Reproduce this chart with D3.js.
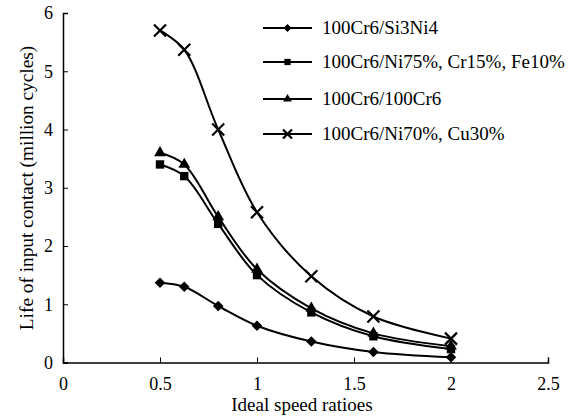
<!DOCTYPE html>
<html>
<head>
<meta charset="utf-8">
<script src="https://cdn.jsdelivr.net/npm/d3@7"></script>
<style>
  body { margin: 0; background: #fff; }
  text { font-family: "Liberation Serif", "DejaVu Serif", serif; fill: #000; }
</style>
</head>
<body>
<div id="chart"></div>
<script>
// speed ratios (x) and life values (million cycles) per material pair
const ratios = [0.5, 0.625, 0.8, 1.0, 1.28, 1.6, 2.0];
const si3ni4 = [1.37, 1.3, 0.97, 0.63, 0.36, 0.18, 0.09];
const ni75cr15fe10 = [3.4, 3.2, 2.38, 1.5, 0.86, 0.45, 0.23];
const cr6cr6 = [3.6, 3.4, 2.5, 1.6, 0.93, 0.5, 0.28];
const ni70cu30 = [5.7, 5.37, 4.0, 2.58, 1.48, 0.79, 0.41];
const seriesNames = [
  "100Cr6/Si3Ni4",
  "100Cr6/Ni75%, Cr15%, Fe10%",
  "100Cr6/100Cr6",
  "100Cr6/Ni70%, Cu30%"
];
const xTicks = [0, 0.5, 1, 1.5, 2, 2.5];
const yTicks = [0, 1, 2, 3, 4, 5, 6];

const width = 573, height = 419;
const margin = { left: 63, right: 25, top: 13, bottom: 56 };

const series = [
  { name: seriesNames[0], values: si3ni4, shape: "diamond", size: 56 },
  { name: seriesNames[1], values: ni75cr15fe10, shape: d3.symbolSquare, size: 70 },
  { name: seriesNames[2], values: cr6cr6, shape: d3.symbolTriangle, size: 60 },
  { name: seriesNames[3], values: ni70cu30, shape: "cross", size: 6 }
];

const svg = d3.select("#chart").append("svg")
  .attr("width", width)
  .attr("height", height);

const x = d3.scaleLinear().domain([0, 2.5]).range([margin.left, width - margin.right]);
const y = d3.scaleLinear().domain([0, 6]).range([height - margin.bottom - 0.5, margin.top]);

// axes, ticks point inward
svg.append("g")
  .attr("transform", `translate(0,${y(0)})`)
  .call(d3.axisBottom(x).tickValues(xTicks).tickSize(-5).tickPadding(15)
    .tickFormat(d => d))
  .call(g => g.select(".domain").attr("stroke-width", 1.5))
  .call(g => g.selectAll("text").attr("font-size", 18));

svg.append("g")
  .attr("transform", `translate(${x(0)},0)`)
  .call(d3.axisLeft(y).tickValues(yTicks).tickSize(-5).tickPadding(10)
    .tickFormat(d => d))
  .call(g => g.select(".domain").attr("stroke-width", 1.5))
  .call(g => g.selectAll("text").attr("font-size", 18));

svg.append("text")
  .attr("x", 302)
  .attr("y", 411)
  .attr("text-anchor", "middle")
  .attr("font-size", 19)
  .text("Ideal speed ratioes");

svg.append("text")
  .attr("transform", "translate(33,188) rotate(-90)")
  .attr("text-anchor", "middle")
  .attr("font-size", 19.3)
  .text("Life of input contact (million cycles)");

const line = d3.line()
  .x((d, i) => x(ratios[i]))
  .y(d => y(d))
  .curve(d3.curveCatmullRom.alpha(0.5));

function drawMarker(g, s, cx, cy, scale) {
  if (s.shape === "cross") {
    const r = s.size * scale;
    g.append("path")
      .attr("d", `M${cx - r},${cy - r}L${cx + r},${cy + r}M${cx - r},${cy + r}L${cx + r},${cy - r}`)
      .attr("stroke", "#000")
      .attr("stroke-width", 2.2)
      .attr("fill", "none");
  } else if (s.shape === "diamond") {
    g.append("path")
      .attr("d", d3.symbol().type(d3.symbolSquare).size(s.size * scale * scale)())
      .attr("transform", `translate(${cx},${cy}) rotate(45)`)
      .attr("fill", "#000");
  } else {
    g.append("path")
      .attr("d", d3.symbol().type(s.shape).size(s.size * scale * scale)())
      .attr("transform", `translate(${cx},${cy})`)
      .attr("fill", "#000");
  }
}

series.forEach(s => {
  const g = svg.append("g");
  g.append("path")
    .datum(s.values)
    .attr("d", line)
    .attr("fill", "none")
    .attr("stroke", "#000")
    .attr("stroke-width", 2);
  s.values.forEach((v, i) => drawMarker(g, s, x(ratios[i]), y(v), 1));
});

// legend
const legendY = [28, 62, 99, 134];
series.forEach((s, i) => {
  const g = svg.append("g");
  g.append("line")
    .attr("x1", 263).attr("x2", 312)
    .attr("y1", legendY[i]).attr("y2", legendY[i])
    .attr("stroke", "#000")
    .attr("stroke-width", 2);
  drawMarker(g, s, 287.5, legendY[i], 0.75);
  g.append("text")
    .attr("x", 322)
    .attr("y", legendY[i] + 6)
    .attr("font-size", 19)
    .text(s.name);
});
</script>
</body>
</html>
